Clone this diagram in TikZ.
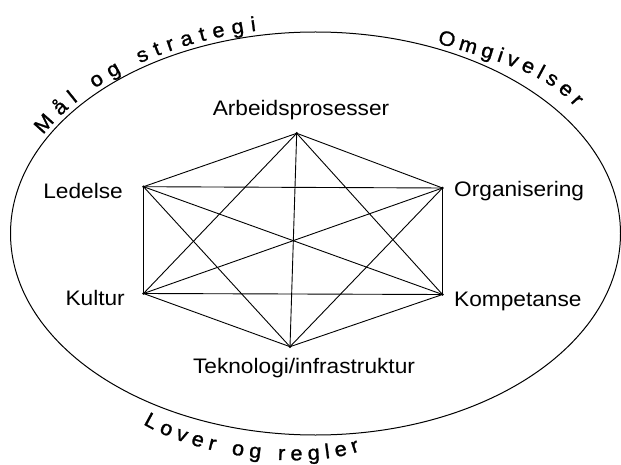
\documentclass[tikz,border=0pt]{standalone}
\usepackage{fontspec}
\setmainfont{Liberation Sans}[FakeStretch=1.08]
\newfontfamily\curvefam{Liberation Sans}[FakeStretch=1.06, FakeBold=1.2]
\usetikzlibrary{decorations.text}
\newcommand{\curvefont}{\curvefam\fontsize{20.5}{24}\selectfont}
\begin{document}
\begin{tikzpicture}[x=1pt,y=-1pt,
  lbl/.style={font=\fontsize{21}{24}\selectfont, inner sep=0pt},
  edge/.style={line width=0.9pt, line cap=round},
  vdot/.style={circle, fill=black, inner sep=0pt, minimum size=2.8pt},
  rim/.style={line width=1pt},
  curvetext/.style={decorate, decoration={text along path, text align={fit to path}, text={|\curvefont|#1}}}]
\useasboundingbox (0,0) rectangle (621,465);
\coordinate (C) at (315.5,233.5);
\draw[rim] (C) ellipse [x radius=305pt, y radius=201.5pt];
% hexagon vertices
\node[vdot] (A) at (296.7,133.3) {};
\node[vdot] (L) at (143.5,186.7) {};
\node[vdot] (O) at (442.5,188) {};
\node[vdot] (K) at (143.5,293.5) {};
\node[vdot] (P) at (442.5,294.5) {};
\node[vdot] (T) at (290,346.7) {};
\foreach \u/\v in {A/L,A/O,L/K,O/P,K/T,P/T,L/O,K/P,A/T,A/K,A/P,T/L,T/O,L/P,K/O}
  \draw[edge] (\u.center) -- (\v.center);
% labels
\node[lbl, anchor=base] (la) at (301,116) {Arbeidsprosesser};
\node[lbl, anchor=base east] (ll) at (123,199) {Ledelse};
\node[lbl, anchor=base west] (lo) at (454,197) {Organisering};
\node[lbl, anchor=base east] (lk) at (125,305) {Kultur};
\node[lbl, anchor=base west] (lp) at (454,306) {Kompetanse};
\node[lbl, anchor=base] (lt) at (304,373) {Teknologi/infrastruktur};
% curved texts
\path[curvetext={Mål og strategi}, shift={(C)}]
  (151.5:310pt and 206.5pt) arc[start angle=151.5, end angle=101, x radius=310pt, y radius=206.5pt];
\path[curvetext={Omgivelser}]
  (437,43) .. controls (484,58) and (543,69) .. (575,107);
\path[curvetext={Lover og regler}]
  (143,424) .. controls (195,455) and (300,472) .. (360,451);
\end{tikzpicture}
\end{document}
